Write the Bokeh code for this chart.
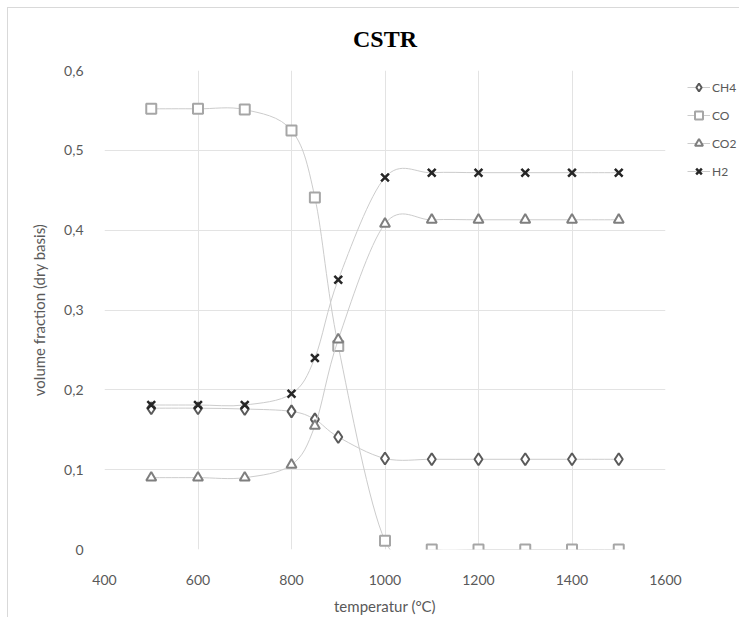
import numpy as np
from bokeh.plotting import figure
from bokeh.models import (ColumnDataSource, FixedTicker, CustomJSTickFormatter, Legend,
                          LegendItem, Range1d)
from bokeh.embed import file_html
from bokeh.resources import INLINE

temperature = [500, 600, 700, 800, 850, 900, 1000, 1100, 1200, 1300, 1400, 1500]
ch4 = [0.177, 0.177, 0.176, 0.173, 0.163, 0.141, 0.114, 0.113, 0.113, 0.113, 0.113, 0.113]
co = [0.552, 0.552, 0.551, 0.525, 0.441, 0.255, 0.011, 0.0, 0.0, 0.0, 0.0, 0.0]
co2 = [0.090, 0.090, 0.090, 0.106, 0.155, 0.263, 0.408, 0.413, 0.413, 0.413, 0.413, 0.413]
h2 = [0.181, 0.181, 0.181, 0.195, 0.240, 0.338, 0.466, 0.472, 0.472, 0.472, 0.472, 0.472]

x_ticks = [400, 600, 800, 1000, 1200, 1400, 1600]
y_ticks = [0, 0.1, 0.2, 0.3, 0.4, 0.5, 0.6]

TXT = "#595959"
FONT = "Lato"


def smooth_source(x, y):
    """Catmull-Rom style Bezier segments (Excel 'smoothed line')."""
    x = np.asarray(x, float)
    y = np.asarray(y, float)
    n = len(x)
    d = dict(x0=[], y0=[], x1=[], y1=[], cx0=[], cy0=[], cx1=[], cy1=[])
    for i in range(n - 1):
        a = i - 1 if i > 0 else i
        b = i + 2 if i + 2 < n else i + 1
        d["x0"].append(x[i]); d["y0"].append(y[i])
        d["x1"].append(x[i + 1]); d["y1"].append(y[i + 1])
        d["cx0"].append(x[i] + (x[i + 1] - x[a]) / 6)
        d["cy0"].append(y[i] + (y[i + 1] - y[a]) / 6)
        d["cx1"].append(x[i + 1] - (x[b] - x[i]) / 6)
        d["cy1"].append(y[i + 1] - (y[b] - y[i]) / 6)
    return ColumnDataSource(d)


p = figure(width=732, height=610, output_backend="svg", toolbar_location=None,
           x_range=Range1d(400, 1600), y_range=Range1d(0, 0.6),
           min_border_left=96, min_border_right=75, min_border_top=62, min_border_bottom=61,
           frame_width=561, frame_height=479)
p.margin = (7, 0, 0, 7)
p.styles = {"border-top": "1px solid #d9d9d9", "border-left": "1px solid #d9d9d9",
            "box-sizing": "border-box"}
p.outline_line_color = None
p.background_fill_color = "white"
p.border_fill_color = "white"

p.title.text = "CSTR"
p.title.align = "center"
p.title.vertical_align = "top"
p.title.text_font = "Liberation Serif"
p.title.text_font_size = "24px"
p.title.text_font_style = "bold"
p.title.text_color = "#000000"
p.title.offset = 0
p.title.standoff = 33

p.xgrid.grid_line_color = "#e3e3e3"
p.ygrid.grid_line_color = "#e3e3e3"
p.xaxis.ticker = FixedTicker(ticks=x_ticks)
p.yaxis.ticker = FixedTicker(ticks=y_ticks)
p.yaxis.formatter = CustomJSTickFormatter(code="""
    if (Math.abs(tick) < 1e-9) return '0';
    return tick.toFixed(1).replace('.', ',');
""")
for ax in (p.xaxis, p.yaxis):
    ax.axis_line_color = None
    ax.major_tick_line_color = None
    ax.minor_tick_line_color = None
    ax.major_label_text_font = FONT
    ax.major_label_text_font_size = "14px"
    ax.major_label_text_color = TXT
    ax.axis_label_text_font = FONT
    ax.axis_label_text_font_size = "15px"
    ax.axis_label_text_color = TXT
    ax.axis_label_text_font_style = "normal"
p.xaxis.axis_label = "temperatur (°C)"
p.yaxis.axis_label = "volume fraction (dry basis)"
p.xaxis.major_label_standoff = 19
p.yaxis.major_label_standoff = 15
p.xaxis.axis_label_standoff = 9
p.yaxis.axis_label_standoff = 13

series = [
    ("CH4", ch4, "diamond", "#5a5a5a", 12),
    ("CO", co, "square", "#a6a6a6", 10),
    ("CO2", co2, "triangle", "#7f7f7f", 10),
    ("H2", h2, "x", "#262626", 11),
]
items = []
for name, vals, marker, col, size in series:
    src = smooth_source(temperature, vals)
    lr = p.bezier(x0="x0", y0="y0", x1="x1", y1="y1", cx0="cx0", cy0="cy0",
                  cx1="cx1", cy1="cy1", source=src, line_color="#cccccc", line_width=1)
    sr = p.scatter(temperature, vals, marker=marker, size=size, fill_color="white",
                   fill_alpha=1, line_color=col, line_width=2.5 if marker == "x" else 2)
    items.append(LegendItem(label=name, renderers=[lr, sr]))

legend = Legend(items=items, location=(22, 368), glyph_width=23, glyph_height=20,
                spacing=8, padding=0, margin=0, label_standoff=2,
                label_text_font=FONT, label_text_font_size="12px", label_text_color=TXT,
                border_line_color=None, background_fill_alpha=0)
p.add_layout(legend, "right")

open("out.html", "w").write(file_html(p, INLINE))
